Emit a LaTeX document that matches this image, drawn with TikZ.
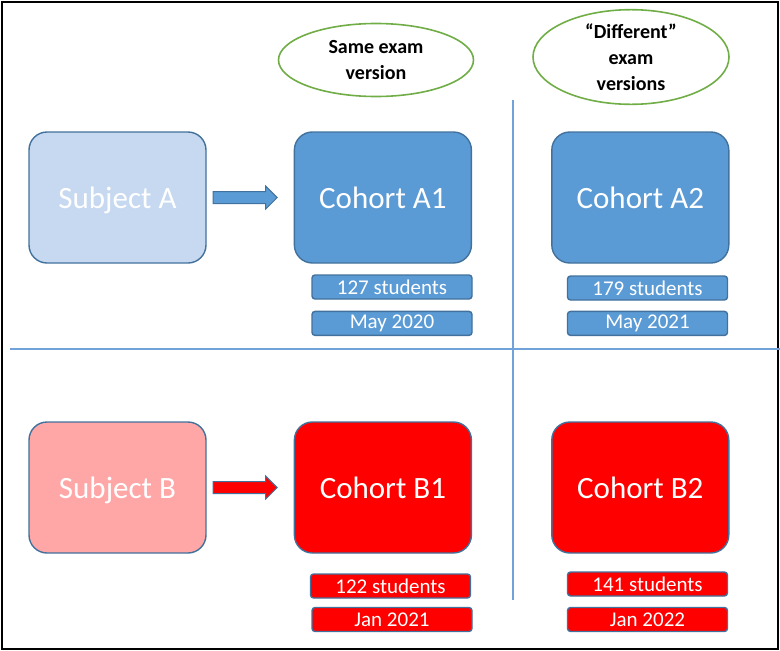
\documentclass[tikz,border=0pt]{standalone}
\usepackage{fontspec}
\setmainfont{Carlito}
\usetikzlibrary{positioning,shapes.geometric,shapes.arrows}

\definecolor{lightblue}{HTML}{C6D9F0}
\definecolor{midblue}{HTML}{5B9BD5}
\definecolor{edgeblue}{HTML}{41719C}
\definecolor{lightred}{HTML}{FFA7A7}
\definecolor{ovalgreen}{HTML}{70AD47}
\definecolor{gridblue}{HTML}{6FA3DA}

\begin{document}
\begin{tikzpicture}[x=1pt, y=-1pt, line width=1.4pt,
    block/.style={rectangle, draw=edgeblue, rounded corners=18pt, minimum width=177pt, minimum height=131pt, text height=27pt, text depth=6pt, text=white, font=\fontsize{31}{34}\selectfont},
    info/.style={rectangle, draw=edgeblue, rounded corners=3pt, minimum width=160pt, minimum height=24pt, inner sep=0pt, text=white, font=\fontsize{21}{23}\selectfont},
    blockarrow/.style={single arrow, draw=edgeblue, line width=1pt, minimum height=64pt, minimum width=22pt, inner sep=5.5pt, single arrow head extend=5.5pt},
    oval/.style={ellipse, draw=ovalgreen, line width=1.6pt, inner sep=0pt, align=center, font=\fontsize{20}{26}\selectfont\bfseries},
    grid/.style={draw=gridblue, line width=1.2pt}]

    \useasboundingbox (0,0) rectangle (780,651);
    \draw[black, line width=2pt] (2,2) rectangle (778,649);

    % dividing lines
    \coordinate (hl) at (10,349);
    \coordinate (hr) at (780,349);
    \coordinate (vt) at (513,100);
    \coordinate (vb) at (513,600);
    \path[grid] (hl) -- (hr);
    \path[grid] (vt) -- (vb);

    % headings
    \node[oval, minimum width=195pt, minimum height=73pt] (same) at (376,60) {Same exam\\version};
    \node[oval, minimum width=196pt, minimum height=87pt] (diff) at (631,57) {“Different”\\exam\\versions};

    % subject A
    \node[block, fill=lightblue] (subjA) at (117.5,197.5) {Subject A};
    \node[block, fill=midblue, right=87pt of subjA] (cohA1) {Cohort A1};
    \node[block, fill=midblue, right=79pt of cohA1] (cohA2) {Cohort A2};
    \node[blockarrow, fill=midblue, right=6pt of subjA] (arrA) {};

    \node[info, fill=midblue] (nA1) at (392,287) {127 students};
    \node[info, fill=midblue, below=11pt of nA1] (dA1) {May 2020};
    \node[info, fill=midblue] (nA2) at (647.5,288) {179 students};
    \node[info, fill=midblue, below=10pt of nA2] (dA2) {May 2021};

    % subject B
    \node[block, fill=lightred] (subjB) at (117.5,487.5) {Subject B};
    \node[block, fill=red, right=87pt of subjB] (cohB1) {Cohort B1};
    \node[block, fill=red, right=79pt of cohB1] (cohB2) {Cohort B2};
    \node[blockarrow, fill=red, right=6pt of subjB] (arrB) {};

    \node[info, fill=red] (nB1) at (390.5,586) {122 students};
    \node[info, fill=red] (dB1) at (392,619.5) {Jan 2021};
    \node[info, fill=red] (nB2) at (647.5,584) {141 students};
    \node[info, fill=red] (dB2) at (647.5,619.5) {Jan 2022};
\end{tikzpicture}
\end{document}
